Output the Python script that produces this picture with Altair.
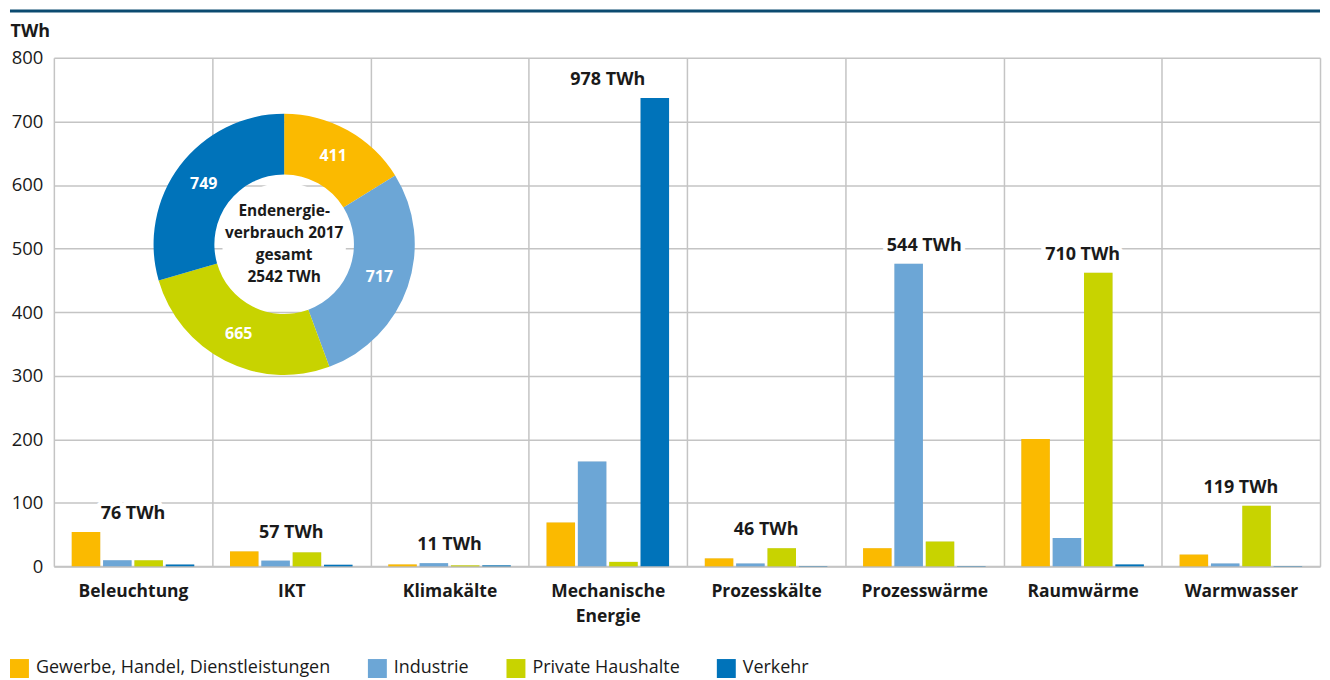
import altair as alt
import pandas as pd

categories = ["Beleuchtung", "IKT", "Klimakälte", "Mechanische Energie",
              "Prozesskälte", "Prozesswärme", "Raumwärme", "Warmwasser"]
sectors = ["Gewerbe, Handel, Dienstleistungen", "Industrie", "Private Haushalte", "Verkehr"]
colors = ["#FBBA00", "#6CA6D6", "#C8D300", "#0073BA"]

ghd = [54, 23.5, 3, 69, 12.5, 28.5, 200.5, 18.5]
industrie = [9.5, 9, 5, 165, 4.5, 476, 44.5, 4.5]
haushalte = [9.5, 22, 1.5, 7, 28.5, 39, 462, 95.5]
verkehr = [3, 2.5, 1.5, 737, 0.5, 0.5, 3, 0.5]
totals = [76, 57, 11, 978, 46, 544, 710, 119]

donut_values = [411, 717, 665, 749]
center_lines = ["Endenergie-", "verbrauch 2017", "gesamt", "2542 TWh"]
y_ticks = [0, 100, 200, 300, 400, 500, 600, 700, 800]

series = [ghd, industrie, haushalte, verkehr]
rows = []
for s, vals in zip(sectors, series):
    for c, v in zip(categories, vals):
        rows.append({"category": c, "sector": s, "value": v})
bars_df = pd.DataFrame(rows)

tot_df = pd.DataFrame({
    "category": categories,
    "label": [f"{t} TWh" for t in totals],
    "ymax": [max(vals[i] for vals in series) for i in range(len(categories))],
})
donut_df = pd.DataFrame({"sector": sectors, "value": donut_values,
                         "idx": list(range(4)), "label": [str(v) for v in donut_values]})
one_df = pd.DataFrame({"a": [0]})

GRID = "#C4C4C4"
TXT = "#1A1A1A"
CX, CY = 231, 187

x_enc = alt.X(
    "category:N", sort=categories,
    scale=alt.Scale(paddingInner=0, paddingOuter=0),
    axis=alt.Axis(
        title=None, grid=True, tickBand="extent", ticks=False,
        gridColor=GRID, gridWidth=1.5, domainColor=GRID, domainWidth=2,
        labelFontSize=17.5, labelFontWeight="bold", labelColor=TXT,
        labelPadding=16, labelLineHeight=25, labelAngle=0,
        labelExpr="datum.value == 'Mechanische Energie' ? ['Mechanische', 'Energie'] : datum.label",
    ),
)
xoff_enc = alt.XOffset("sector:N", sort=sectors,
                       scale=alt.Scale(paddingInner=0.09, paddingOuter=0.57))
y_scale = alt.Scale(domain=[0, 800], nice=False)
y_axis = alt.Axis(
    title="TWh", titleAngle=0, titleX=-44, titleY=-26, titleAlign="left",
    titleBaseline="middle", titleFontSize=18, titleFontWeight="bold", titleColor=TXT,
    values=y_ticks, grid=True, gridColor=GRID, gridWidth=1.5, domain=False,
    ticks=False, labelFontSize=18.5, labelColor=TXT, labelPadding=11,
)


def Y(field):
    return alt.Y(f"{field}:Q", scale=y_scale, axis=y_axis)


color_enc = alt.Color(
    "sector:N",
    scale=alt.Scale(domain=sectors, range=colors),
    legend=alt.Legend(
        orient="none", legendX=-44, legendY=603, direction="horizontal", title=None,
        symbolType="square", symbolSize=361, symbolStrokeWidth=0,
        labelFontSize=18, labelColor=TXT, labelOffset=7, columnPadding=37,
        labelLimit=500,
    ),
)

top_rule = alt.Chart(one_df).mark_rule(color="#0B4A70", strokeWidth=3).encode(
    x=alt.value(-44), x2=alt.value(1270), y=alt.value(-47)
)

shadow = alt.Chart(bars_df).mark_bar(color="#000000", opacity=0.12, xOffset=4).encode(
    x=x_enc, xOffset=xoff_enc, y=Y("value")
)

bars = alt.Chart(bars_df).mark_bar().encode(
    x=x_enc, xOffset=xoff_enc, y=Y("value"), color=color_enc
)

halo = alt.Chart(tot_df).mark_text(
    dy=-18, fontSize=18, fontWeight="bold", color="white",
    stroke="white", strokeWidth=9, strokeJoin="round", baseline="middle"
).encode(x=x_enc, y=Y("ymax"), text="label:N")

tot_text = alt.Chart(tot_df).mark_text(
    dy=-18, fontSize=18, fontWeight="bold", color=TXT, baseline="middle"
).encode(x=x_enc, y=Y("ymax"), text="label:N")

arcs = alt.Chart(donut_df).mark_arc(radius=131, radius2=70).encode(
    theta=alt.Theta("value:Q", stack=True),
    order=alt.Order("idx:Q"),
    color=color_enc,
    x=alt.value(CX), y=alt.value(CY),
)

hole = alt.Chart(one_df).mark_circle(color="white", opacity=1, size=15394).encode(
    x=alt.value(CX), y=alt.value(CY)
)

arc_labels = alt.Chart(donut_df).mark_text(
    radius=101, fontSize=16, fontWeight="bold", color="white"
).encode(
    theta=alt.Theta("value:Q", stack=True),
    order=alt.Order("idx:Q"),
    text="label:N",
    x=alt.value(CX), y=alt.value(CY),
)

center = alt.Chart(one_df).mark_text(
    fontSize=15.5, fontWeight="bold", color=TXT, lineHeight=22, baseline="middle",
    dy=-33
).encode(
    x=alt.value(CX), y=alt.value(CY), text=alt.value(center_lines)
)

chart = alt.layer(
    top_rule, shadow, bars, halo, tot_text, arcs, hole, arc_labels, center
).properties(
    width=1270, height=510,
    padding={"left": 0, "top": 0, "right": 0, "bottom": 0},
).configure(font="Open Sans").configure_view(stroke=None)

chart.save("out.html", embed_options={"renderer": "svg", "actions": False})
